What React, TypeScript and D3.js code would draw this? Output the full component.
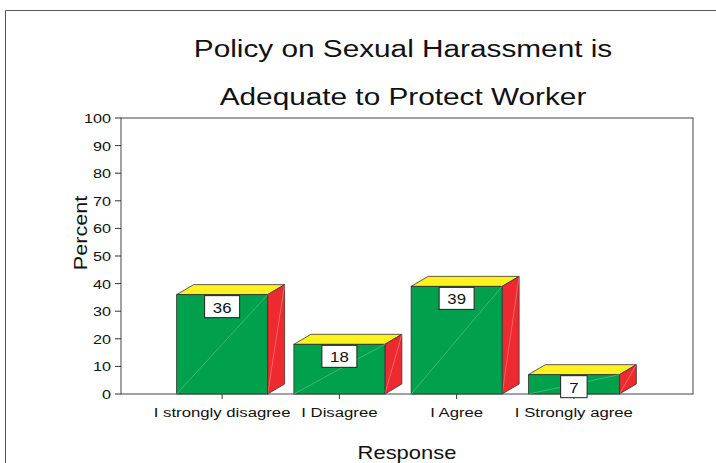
import React from "react";
import * as d3 from "d3";

const categories = ["I strongly disagree", "I Disagree", "I Agree", "I Strongly agree"];
const percents = [36, 18, 39, 7];
const yTicks = [0, 10, 20, 30, 40, 50, 60, 70, 80, 90, 100];
const titleLines = ["Policy on Sexual Harassment is", "Adequate to Protect Worker"];

const W = 716, H = 463;
const plot = { left: 121, right: 693, top: 118, bottom: 394 };
const depth = { dx: 17, dy: -10 };
const GREEN = "#00a04c";
const YELLOW = "#fff21e";
const RED = "#ec2a2f";
const FONT = "'Liberation Sans', Arial, sans-serif";

function SText({ x, y, size, sx = 1.2, anchor = "middle", rotate = 0, children }: any) {
  return (
    <g transform={`translate(${x},${y}) rotate(${rotate}) scale(${sx},1)`}>
      <text x={0} y={0} textAnchor={anchor} fontSize={size} fill="#111">{children}</text>
    </g>
  );
}

export default function App() {
  const y = d3.scaleLinear().domain([0, 100]).range([plot.bottom, plot.top]);
  const x = d3.scaleBand<string>().domain(categories).range([163.5, 632.5]).paddingInner(0.224).paddingOuter(0.112);
  const bw = x.bandwidth();

  return (
    <svg width={W} height={H} style={{ position: "absolute", left: 0, top: 0, background: "#fff" }} fontFamily={FONT}>
      <rect x={0} y={0} width={W} height={H} fill="#fff" />
      <path d={`M5.5,${H} V10.5 H${W}`} fill="none" stroke="#555" strokeWidth={1} />
      {titleLines.map((t, i) => (
        <SText key={i} x={403} y={57 + i * 48} size={24.5} sx={1.215}>{t}</SText>
      ))}
      <rect x={plot.left} y={plot.top} width={plot.right - plot.left} height={plot.bottom - plot.top} fill="#fff" stroke="#444" strokeWidth={1} />
      {yTicks.map((t) => (
        <g key={t}>
          <line x1={plot.left - 6} x2={plot.left} y1={y(t)} y2={y(t)} stroke="#333" />
          <SText x={111} y={y(t) + 5} size={13.5} sx={1.2} anchor="end">{t}</SText>
        </g>
      ))}
      <SText x={87} y={233} size={18} sx={1.2} rotate={-90}>Percent</SText>
      {categories.map((c, i) => {
        const x0 = x(c)!;
        const x1 = x0 + bw;
        const yt = y(percents[i]);
        const yb = y(0);
        const cx = x0 + bw / 2;
        const label = String(percents[i]);
        const boxW = label.length * 8.5 + 18;
        return (
          <g key={c}>
            <polygon points={`${x0},${yt} ${x1},${yt} ${x1 + depth.dx},${yt + depth.dy} ${x0 + depth.dx},${yt + depth.dy}`} fill={YELLOW} stroke="#333" strokeWidth={0.8} />
            <polygon points={`${x1},${yt} ${x1 + depth.dx},${yt + depth.dy} ${x1 + depth.dx},${yb + depth.dy} ${x1},${yb}`} fill={RED} stroke="#333" strokeWidth={0.8} />
            <line x1={x1} y1={yb} x2={x1 + depth.dx} y2={yt + depth.dy} stroke="#f5a0a0" strokeWidth={0.5} />
            <rect x={x0} y={yt} width={bw} height={yb - yt} fill={GREEN} stroke="#333" strokeWidth={0.8} />
            <line x1={x0} y1={yb} x2={x1} y2={yt} stroke="#7fd0a0" strokeWidth={0.5} />
            <line x1={cx} x2={cx} y1={yb} y2={yb + 5} stroke="#333" />
            <rect x={cx - boxW / 2} y={yt + 1} width={boxW} height={22} fill="#fff" stroke="#222" strokeWidth={1} />
            <SText x={cx} y={yt + 18} size={14} sx={1.2}>{label}</SText>
            <SText x={cx} y={417} size={13.5} sx={1.24}>{c}</SText>
          </g>
        );
      })}
      <SText x={407} y={459} size={18} sx={1.22}>Response</SText>
    </svg>
  );
}
